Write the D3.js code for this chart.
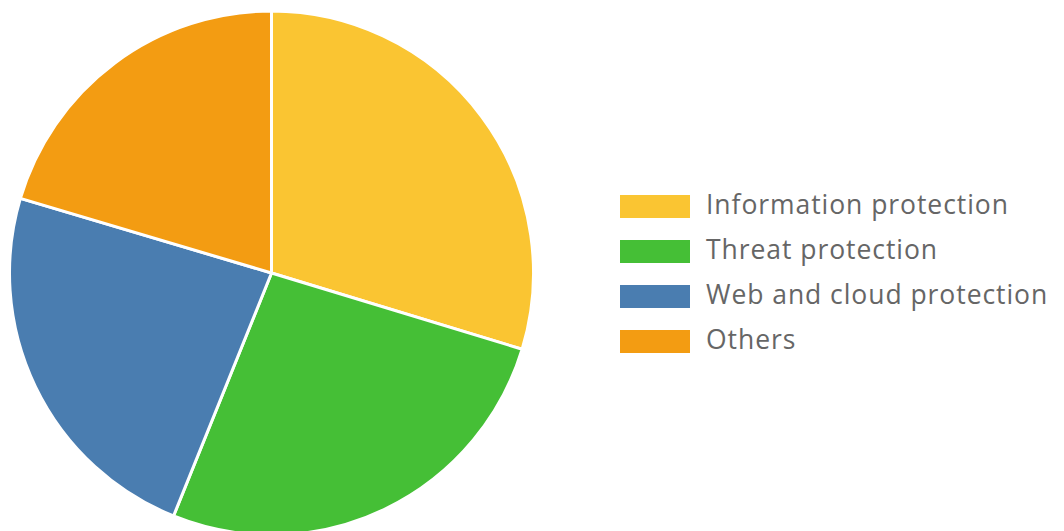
<!DOCTYPE html>
<html><head><meta charset="utf-8">
<script src="https://cdn.jsdelivr.net/npm/d3@7"></script>
<style>body{margin:0;background:#fff;overflow:hidden}</style>
</head><body>
<svg id="c" width="1064" height="531"></svg>
<script>
const categories = ["Information protection","Threat protection","Web and cloud protection","Others"];
const values = [29.7, 26.4, 23.5, 20.4];
const colors = ["#FAC532","#45BF36","#4A7DB0","#F39C12"];

const svg = d3.select("#c");
const cx = 271.5, cy = 273, r = 262;
const pie = d3.pie().sort(null).value(d => d)(values);
const arc = d3.arc().innerRadius(0).outerRadius(r);
const g = svg.append("g").attr("transform", `translate(${cx},${cy})`);
g.selectAll("path").data(pie).enter().append("path")
  .attr("d", arc).attr("fill", (d,i) => colors[i])
  .attr("stroke", "#fff").attr("stroke-width", 3).attr("stroke-linejoin","round");

const lg = svg.append("g");
const y = d3.scaleBand().domain(categories).range([195, 375]);
categories.forEach((c,i) => {
  lg.append("rect").attr("x", 620).attr("y", y(c)).attr("width", 70).attr("height", 23).attr("fill", colors[i]);
  const t = lg.append("text").attr("x", 706).attr("y", y(c) + 9.5).attr("dy", "0.35em")
    .attr("font-family", "'Open Sans', sans-serif").attr("font-size", 26.5)
    .attr("fill", "#666").text(c);
  if (i === 0) {
    const w = t.node().getComputedTextLength();
    const ls = (302 - w) / (c.length - 1);
    lg.attr("data-ls", ls);
  }
});
const ls = +lg.attr("data-ls");
lg.selectAll("text").attr("letter-spacing", ls);
</script>
</body></html>
